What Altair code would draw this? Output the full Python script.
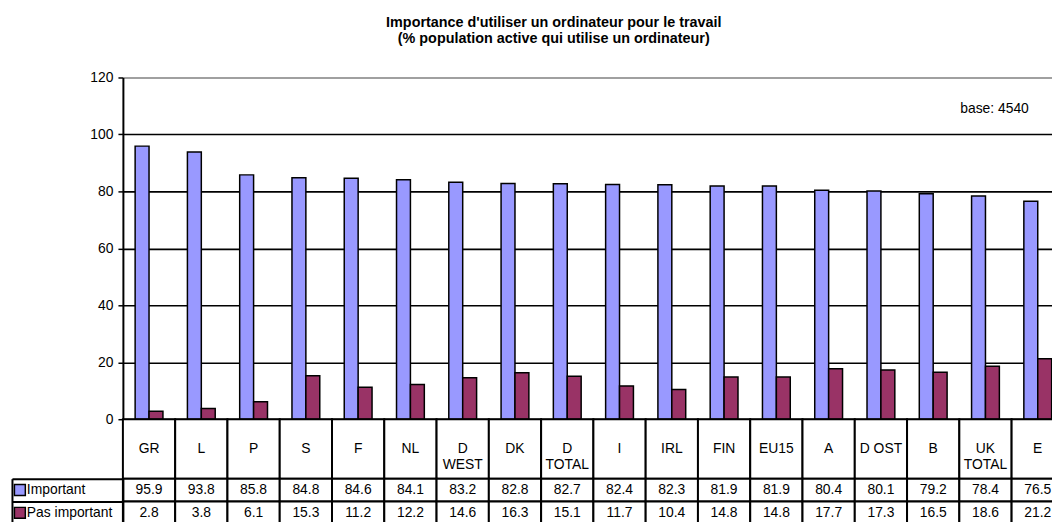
import altair as alt
import pandas as pd

categories = ["GR", "L", "P", "S", "F", "NL", "D\nWEST", "DK", "D\nTOTAL", "I",
              "IRL", "FIN", "EU15", "A", "D OST", "B", "UK\nTOTAL", "E"]
important = [95.9, 93.8, 85.8, 84.8, 84.6, 84.1, 83.2, 82.8, 82.7, 82.4,
             82.3, 81.9, 81.9, 80.4, 80.1, 79.2, 78.4, 76.5]
pas_important = [2.8, 3.8, 6.1, 15.3, 11.2, 12.2, 14.6, 16.3, 15.1, 11.7,
                 10.4, 14.8, 14.8, 17.7, 17.3, 16.5, 18.6, 21.2]
series = ["Important", "Pas important"]
colors = ["#9999ff", "#993366"]
title_lines = ["Importance d'utiliser un ordinateur pour le travail",
               "(% population active qui utilise un ordinateur)"]
base_note = ["base: 4540"]
y_ticks = [0, 20, 40, 60, 80, 100, 120]

rows = []
for i, c in enumerate(categories):
    rows.append({"cat": c, "serie": series[0], "value": important[i]})
    rows.append({"cat": c, "serie": series[1], "value": pas_important[i]})
df = pd.DataFrame(rows)
cat_df = pd.DataFrame({"cat": categories})
note_df = pd.DataFrame({"note": base_note})

FONT = "Liberation Sans"
W = 950
H_PLOT = 345
H_HEAD = 60
H_ROW = 23
x_scale = alt.Scale(domain=categories, paddingInner=0, paddingOuter=0)


def xenc(axis=None):
    return alt.X("cat:N", scale=x_scale, sort=categories, axis=axis)


bars = alt.Chart(df).mark_bar(stroke="black", strokeWidth=1.5).encode(
    x=xenc(alt.Axis(title=None, labels=False, ticks=False, grid=False,
                    domain=True, domainColor="black", domainWidth=2)),
    xOffset=alt.XOffset("serie:N", sort=series,
                        scale=alt.Scale(domain=series, paddingInner=0, paddingOuter=0.88)),
    y=alt.Y("value:Q", scale=alt.Scale(domain=[0, 120], nice=False),
            axis=alt.Axis(values=y_ticks, title=None, grid=True,
                          gridColor={"condition": {"test": "datum.value === 120", "value": "#808080"},
                                     "value": "black"},
                          gridWidth=1.6, domain=True, domainColor="black", domainWidth=2,
                          tickSize=5, tickColor="black", tickWidth=1.5,
                          labelFont=FONT, labelFontSize=14, labelColor="black",
                          labelPadding=5)),
    color=alt.Color("serie:N", sort=series, scale=alt.Scale(domain=series, range=colors),
                    legend=alt.Legend(orient="none", legendX=-111, legendY=H_PLOT + H_HEAD,
                                      title=None,
                                      symbolType="square", symbolSize=121,
                                      symbolStrokeColor="black", symbolStrokeWidth=1.5,
                                      labelFont=FONT, labelFontSize=14, labelColor="black",
                                      labelOffset=0, rowPadding=0, padding=0,
                                      clipHeight=H_ROW)),
)

note = alt.Chart(note_df).mark_text(font=FONT, fontSize=14, color="black", align="right", dx=-9).encode(
    x=alt.datum("E"),
    y=alt.datum(109),
    text="note:N",
)

top = alt.layer(bars, note).properties(width=W, height=H_PLOT)

header_rect = alt.Chart(cat_df).mark_rect(fill="white", stroke="black", strokeWidth=2).encode(
    x=xenc(),
)
header_text = alt.Chart(cat_df).mark_text(font=FONT, fontSize=14, color="black",
                                          lineBreak="\n", lineHeight=16).encode(
    x=xenc(),
    text="cat:N",
)
header = alt.layer(header_rect, header_text).properties(width=W, height=H_HEAD)

row_scale = alt.Scale(domain=series, paddingInner=0, paddingOuter=0)
val_rect = alt.Chart(df).mark_rect(fill="white", stroke="black", strokeWidth=2).encode(
    x=xenc(),
    y=alt.Y("serie:N", scale=row_scale, sort=series,
            axis=alt.Axis(title=None, labels=False, ticks=True, tickSize=112, tickColor="black",
                          tickWidth=2, bandPosition=0, domain=True, domainColor="black",
                          domainWidth=2, grid=False)),
)
val_text = alt.Chart(df).mark_text(font=FONT, fontSize=14, color="black").encode(
    x=xenc(),
    y=alt.Y("serie:N", scale=row_scale, sort=series,
            axis=alt.Axis(title=None, orient="left", offset=112, labels=False, ticks=False,
                          domain=True, domainColor="black", domainWidth=2, grid=False)),
    text=alt.Text("value:Q", format=".1f"),
)
values = alt.layer(val_rect, val_text).resolve_axis(y="independent").properties(
    width=W, height=2 * H_ROW)

chart = alt.vconcat(top, header, values, spacing=0, bounds="flush").properties(
    title=alt.TitleParams(text=title_lines, font=FONT, fontSize=14.5, fontWeight="bold",
                          color="black", anchor="middle", lineHeight=16.8, offset=23.4, dx=16),
    padding={"left": 2, "top": 3.7, "right": -14, "bottom": -7},
    background="white",
).configure_view(stroke="transparent")

chart.save("out.html", embed_options={"renderer": "svg", "actions": False})
